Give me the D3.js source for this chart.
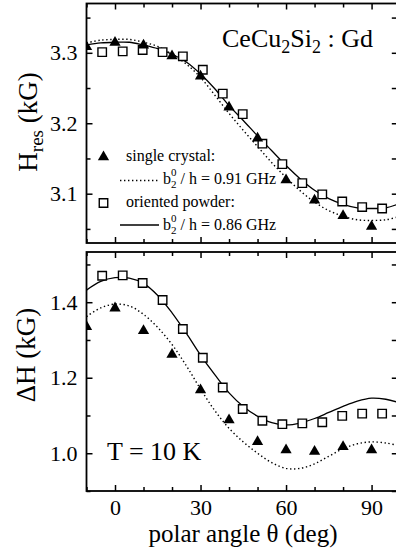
<!DOCTYPE html>
<html>
<head>
<meta charset="utf-8">
<script src="https://cdn.jsdelivr.net/npm/d3@7/dist/d3.min.js"></script>
<style>
  html, body { margin: 0; padding: 0; background: #fff; }
  svg { display: block; }
  text { font-family: "Liberation Serif", "Times New Roman", serif; fill: #000; }
</style>
</head>
<body>
<svg id="chart" width="396" height="553" font-family="Liberation Serif, serif"></svg>
<script>
// ---- data: polar angle theta (deg) ----
// resonance field H_res (kG)
const crystalAngles = [-10, 0, 10, 20, 30, 40, 50, 60, 70, 80, 90];
const crystalHres   = [3.310, 3.316, 3.312, 3.297, 3.268, 3.224, 3.180, 3.121, 3.092, 3.070, 3.055];
const powderAngles  = [-4.5, 2.7, 9.7, 16.7, 23.8, 30.8, 37.8, 44.8, 51.7, 58.7, 65.7, 72.7, 79.7, 86.7, 93.7];
const powderHres    = [3.301, 3.302, 3.304, 3.301, 3.295, 3.276, 3.242, 3.213, 3.171, 3.142, 3.115, 3.099, 3.089, 3.081, 3.079];

// line width dH (kG)
const crystalWidth  = [1.338, 1.387, 1.327, 1.264, 1.170, 1.091, 1.033, 1.011, 1.007, 1.020, 1.011];
const powderWidth   = [1.470, 1.471, 1.451, 1.406, 1.329, 1.253, 1.174, 1.117, 1.086, 1.077, 1.079, 1.082, 1.099, 1.105, 1.105];

// fitted curves
const fitAngles     = [-10, -5, 0, 5, 10, 15, 20, 25, 30, 35, 40, 45, 50, 55, 60, 65, 70, 75, 80, 85, 90, 95, 99.2];
const fitHres091    = [3.314, 3.318, 3.319, 3.319, 3.315, 3.309, 3.298, 3.284, 3.265, 3.240, 3.214, 3.190, 3.167, 3.144, 3.123, 3.104, 3.088, 3.076, 3.068, 3.063, 3.062, 3.063, 3.067];
const fitHres086    = [3.311, 3.314, 3.315, 3.315, 3.311, 3.306, 3.298, 3.287, 3.270, 3.249, 3.225, 3.204, 3.182, 3.161, 3.140, 3.121, 3.105, 3.093, 3.085, 3.080, 3.079, 3.080, 3.085];
const fitWidth091   = [1.362, 1.385, 1.395, 1.390, 1.368, 1.333, 1.288, 1.232, 1.170, 1.113, 1.066, 1.030, 1.000, 0.975, 0.960, 0.960, 0.972, 0.992, 1.012, 1.025, 1.030, 1.027, 1.021];
const fitWidth086   = [1.432, 1.455, 1.465, 1.464, 1.450, 1.418, 1.372, 1.318, 1.260, 1.208, 1.160, 1.124, 1.098, 1.081, 1.075, 1.080, 1.092, 1.108, 1.124, 1.138, 1.146, 1.143, 1.135];

// ticks
const xMajor = [0, 30, 60, 90];
const xMinor = [-10, 10, 20, 40, 50, 70, 80];
const hresMajor = [3.1, 3.2, 3.3];
const hresMinor = [3.05, 3.15, 3.25, 3.35];
const widthMajor = [1.0, 1.2, 1.4];
const widthMinor = [0.9, 1.1, 1.3, 1.5];

const SERIF = '"Liberation Serif", "Times New Roman", serif';
const svg = d3.select("#chart");

const left = 86.5, right = 397.8;
const x = d3.scaleLinear().domain([-10, 99.2]).range([left, right]);

const panels = [
  { top: 3.5, bottom: 243, domain: [3.03, 3.37], major: hresMajor, minor: hresMinor,
    crystal: crystalHres, powder: powderHres, fitDot: fitHres091, fitSolid: fitHres086, xLabels: false },
  { top: 252, bottom: 491, domain: [0.9, 1.533], major: widthMajor, minor: widthMinor,
    crystal: crystalWidth, powder: powderWidth, fitDot: fitWidth091, fitSolid: fitWidth086, xLabels: true }
];

const triangle = d3.symbol().type(d3.symbolTriangle).size(55);
const square = d3.symbol().type(d3.symbolSquare).size(72);

panels.forEach((p, i) => {
  const y = d3.scaleLinear().domain(p.domain).range([p.bottom, p.top]);
  const g = svg.append("g");
  const h = p.bottom - p.top, w = right - left;

  const clipId = "clip" + i;
  svg.append("clipPath").attr("id", clipId)
    .append("rect").attr("x", left).attr("y", p.top).attr("width", w).attr("height", h);

  const plot = g.append("g").attr("clip-path", `url(#${clipId})`);

  const line = d3.line().x((d, k) => x(fitAngles[k])).y(d => y(d)).curve(d3.curveCatmullRom);

  plot.append("path").attr("d", line(p.fitDot))
    .attr("fill", "none").attr("stroke", "#000").attr("stroke-width", 1.4)
    .attr("stroke-dasharray", "1.4,2.6");
  plot.append("path").attr("d", line(p.fitSolid))
    .attr("fill", "none").attr("stroke", "#000").attr("stroke-width", 1.3);

  plot.selectAll("path.sq").data(p.powder).join("path").attr("class", "sq")
    .attr("d", square)
    .attr("transform", (d, k) => `translate(${x(powderAngles[k])},${y(d)})`)
    .attr("fill", "#fff").attr("stroke", "#000").attr("stroke-width", 1.4);

  plot.selectAll("path.tri").data(p.crystal).join("path").attr("class", "tri")
    .attr("d", triangle)
    .attr("transform", (d, k) => `translate(${x(crystalAngles[k])},${y(d) + 1})`)
    .attr("fill", "#000");

  // axes with inward ticks on all four sides
  const tickStyle = sel => {
    sel.attr("font-family", SERIF).attr("font-size", 22);
    sel.select(".domain").remove();
    sel.selectAll("line").attr("stroke", "#000").attr("stroke-width", 1.5);
    sel.selectAll("text").style("font-size", "22px").style("font-family", SERIF);
  };

  g.append("g").attr("transform", `translate(${left},0)`)
    .call(d3.axisLeft(y).tickValues(p.major).tickSize(-6).tickPadding(9).tickFormat(d3.format(".1f")))
    .call(tickStyle);
  g.append("g").attr("transform", `translate(${left},0)`)
    .call(d3.axisLeft(y).tickValues(p.minor).tickSize(-4).tickFormat(""))
    .call(tickStyle);
  g.append("g").attr("transform", `translate(${right},0)`)
    .call(d3.axisRight(y).tickValues(p.major.concat(p.minor)).tickSize(-6).tickFormat(""))
    .call(tickStyle);

  g.append("g").attr("transform", `translate(0,${p.bottom})`)
    .call(d3.axisBottom(x).tickValues(xMajor).tickSize(-6).tickPadding(8)
      .tickFormat(p.xLabels ? d3.format("d") : ""))
    .call(tickStyle);
  g.append("g").attr("transform", `translate(0,${p.bottom})`)
    .call(d3.axisBottom(x).tickValues(xMinor).tickSize(-4).tickFormat(""))
    .call(tickStyle);
  g.append("g").attr("transform", `translate(0,${p.top})`)
    .call(d3.axisTop(x).tickValues(xMajor).tickSize(-6).tickFormat(""))
    .call(tickStyle);
  g.append("g").attr("transform", `translate(0,${p.top})`)
    .call(d3.axisTop(x).tickValues(xMinor).tickSize(-4).tickFormat(""))
    .call(tickStyle);

  g.append("rect").attr("x", left).attr("y", p.top).attr("width", w).attr("height", h)
    .attr("fill", "none").attr("stroke", "#000").attr("stroke-width", 1.8);
});

// y axis titles
const hresLabel = svg.append("text")
  .attr("transform", "translate(37,122) rotate(-90)")
  .attr("text-anchor", "middle").style("font-size", "27px");
hresLabel.append("tspan").text("H");
hresLabel.append("tspan").text("res").attr("dy", 6).style("font-size", "19px");
hresLabel.append("tspan").text(" (kG)").attr("dy", -6);

svg.append("text")
  .attr("transform", "translate(35,355) rotate(-90)")
  .attr("text-anchor", "middle").style("font-size", "27px")
  .text("\u0394H (kG)");

// x axis title
svg.append("text").attr("x", 243).attr("y", 542).attr("text-anchor", "middle")
  .style("font-size", "25px").text("polar angle \u03b8 (deg)");

// compound name
const title = svg.append("text").attr("x", 222).attr("y", 47).style("font-size", "26px");
title.append("tspan").text("CeCu");
title.append("tspan").text("2").attr("dy", 6).style("font-size", "18px");
title.append("tspan").text("Si").attr("dy", -6);
title.append("tspan").text("2").attr("dy", 6).style("font-size", "18px");
title.append("tspan").text(" : Gd").attr("dy", -6);

// temperature
svg.append("text").attr("x", 107).attr("y", 460).style("font-size", "26px").text("T = 10 K");

// legend
const lg = svg.append("g").style("font-size", "16px");
lg.append("path").attr("d", triangle).attr("transform", "translate(103.5,157)").attr("fill", "#000");
lg.append("text").attr("x", 126).attr("y", 161).text("single crystal:");
lg.append("line").attr("x1", 120).attr("x2", 158).attr("y1", 180.5).attr("y2", 180.5)
  .attr("stroke", "#000").attr("stroke-width", 1.4).attr("stroke-dasharray", "1.4,2.6");
lg.append("path").attr("d", square).attr("transform", "translate(103.5,203)")
  .attr("fill", "#fff").attr("stroke", "#000").attr("stroke-width", 1.4);
lg.append("text").attr("x", 126).attr("y", 207).text("oriented powder:");
lg.append("line").attr("x1", 120).attr("x2", 159).attr("y1", 225).attr("y2", 225)
  .attr("stroke", "#000").attr("stroke-width", 1.3);

function fitLabel(yBase, value) {
  const t = lg.append("text").attr("x", 163).attr("y", yBase);
  t.append("tspan").text("b");
  t.append("tspan").text("2").attr("dy", 4).style("font-size", "11px");
  t.append("tspan").text("0").attr("dx", -5.5).attr("dy", -12).style("font-size", "11px");
  t.append("tspan").text(" / h = " + value + " GHz").attr("dy", 8);
}
fitLabel(183.5, "0.91");
fitLabel(229.5, "0.86");
</script>
</body>
</html>
